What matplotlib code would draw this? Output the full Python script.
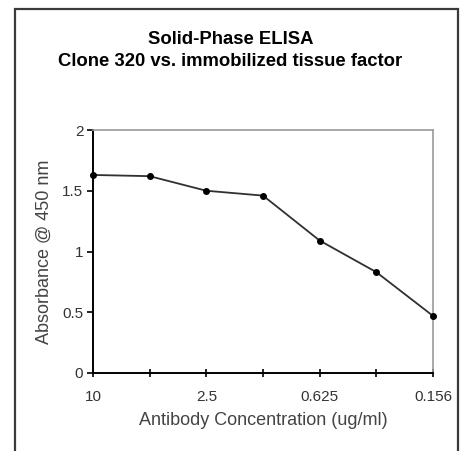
import matplotlib.pyplot as plt
from matplotlib.patches import Rectangle

plt.rcParams['font.family'] = ['Liberation Sans', 'DejaVu Sans']

# antibody dilution series, only every other one is labelled
concentrations = ['10', '5', '2.5', '1.25', '0.625', '0.3125', '0.156']
tick_labels = ['10', '', '2.5', '', '0.625', '', '0.156']
absorbance = [1.63, 1.62, 1.50, 1.46, 1.09, 0.83, 0.47]

W, H = 461, 451
fig = plt.figure(figsize=(W / 100, H / 100), dpi=100)

# outer chart frame
fig.patches.append(Rectangle((15 / W, -0.05), 443 / W, 1.05 - 9 / H,
                             transform=fig.transFigure, fill=False,
                             edgecolor='#3a3a3a', lw=1.6))

ax = fig.add_axes([93 / W, 1 - 373 / H, 340 / W, 243 / H])
x = range(len(concentrations))
ax.plot(x, absorbance, color='#303030', lw=1.3, marker='o', ms=4,
        markerfacecolor='black', markeredgecolor='black', clip_on=False,
        zorder=5)

ax.set_xlim(0, len(concentrations) - 1)
ax.set_ylim(0, 2)
ax.set_xticks(list(x))
ax.set_xticklabels(tick_labels)
ax.set_yticks([0, 0.5, 1, 1.5, 2])
ax.set_yticklabels(['0', '0.5', '1', '1.5', '2'])

ax.spines['left'].set_color('black')
ax.spines['bottom'].set_color('black')
ax.spines['left'].set_linewidth(1.4)
ax.spines['bottom'].set_linewidth(1.4)
ax.spines['top'].set_color('#9a9a9a')
ax.spines['right'].set_color('#9a9a9a')
ax.spines['top'].set_linewidth(1.2)
ax.spines['right'].set_linewidth(1.2)

ax.tick_params(axis='x', direction='inout', length=6, width=1.2,
               labelsize=11, labelcolor='#333333', pad=9)
ax.tick_params(axis='y', direction='out', length=4, width=1.2,
               labelsize=11, labelcolor='#333333', pad=3)

ax.set_xlabel('Antibody Concentration (ug/ml)', fontsize=13, color='#444444',
              labelpad=6)
ax.set_ylabel('Absorbance @ 450 nm', fontsize=13, color='#444444',
              labelpad=7)

fig.text(0.5, 1 - 40 / H, 'Solid-Phase ELISA', ha='center', va='center',
         fontsize=13.3, fontweight='bold')
fig.text(0.5, 1 - 62 / H, 'Clone 320 vs. immobilized tissue factor',
         ha='center', va='center', fontsize=13.3, fontweight='bold')

plt.savefig('out.png', dpi=100)
